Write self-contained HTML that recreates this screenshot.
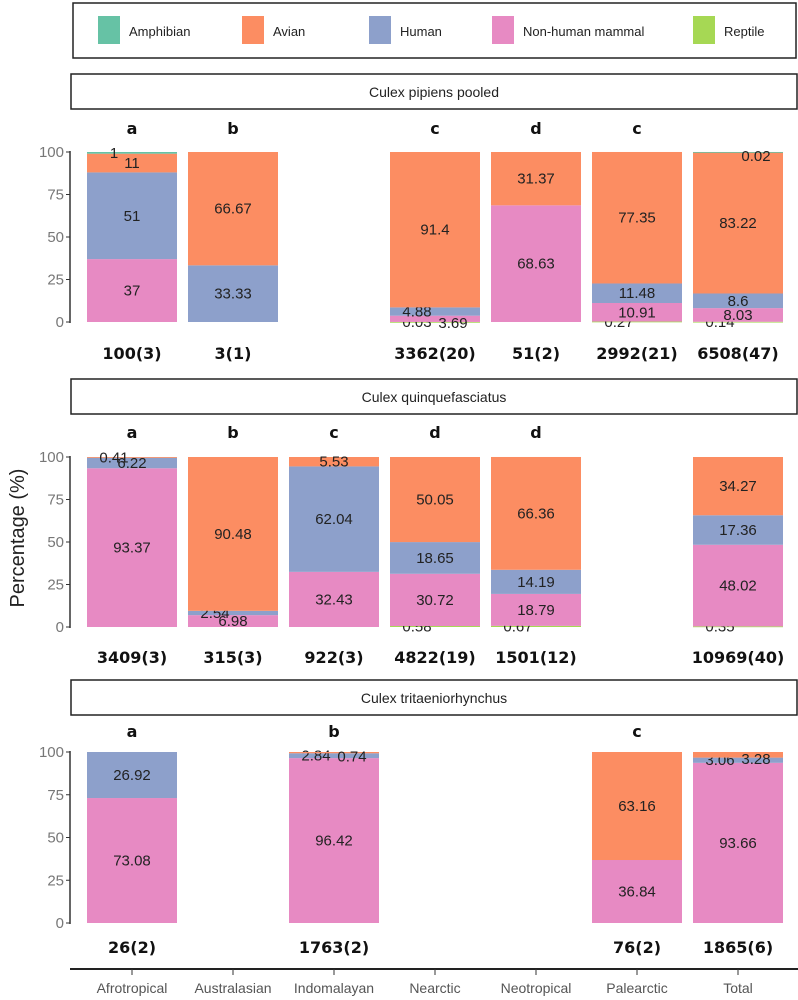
<!DOCTYPE html>
<html><head><meta charset="utf-8"><style>
body{margin:0;background:#fff;}
svg{display:block;font-family:"Liberation Sans",sans-serif;}
.n{font-family:"Liberation Sans Narrow","Liberation Sans",sans-serif;}
</style></head><body>
<svg id="chart" width="798" height="1000" viewBox="0 0 798 1000" xmlns="http://www.w3.org/2000/svg">
<g>
<rect x="73" y="3" width="723" height="55" fill="#fff" stroke="#222" stroke-width="1.5"/>
<g><rect x="98" y="16" width="22" height="28" fill="#66c2a5"/><text x="129" y="36" font-size="13" fill="#222">Amphibian</text></g>
<g><rect x="242" y="16" width="22" height="28" fill="#fc8d62"/><text x="273" y="36" font-size="13" fill="#222">Avian</text></g>
<g><rect x="369" y="16" width="22" height="28" fill="#8da0cb"/><text x="400" y="36" font-size="13" fill="#222">Human</text></g>
<g><rect x="492" y="16" width="22" height="28" fill="#e78ac3"/><text x="523" y="36" font-size="13" fill="#222">Non-human mammal</text></g>
<g><rect x="693" y="16" width="22" height="28" fill="#a6d854"/><text x="724" y="36" font-size="13" fill="#222">Reptile</text></g>
</g>
<text transform="translate(24,538) rotate(-90)" text-anchor="middle" font-size="20" fill="#222">Percentage (%)</text>
<line x1="70" y1="969" x2="798" y2="969" stroke="#222" stroke-width="2"/>
<g id="plots"></g>
</svg>
<script>
const regions = ["Afrotropical","Australasian","Indomalayan","Nearctic","Neotropical","Palearctic","Total"];
const hostCats = ["Reptile","Non-human mammal","Human","Avian","Amphibian"];
const hostColors = ["#a6d854","#e78ac3","#8da0cb","#fc8d62","#66c2a5"];
const panelTitles = ["Culex pipiens pooled","Culex quinquefasciatus","Culex tritaeniorhynchus"];
const yTicks = [0,25,50,75,100];
// values per region: [Reptile, NHM, Human, Avian, Amphibian]; null = no bar
const pipiensValues = [[0,37,51,11,1],[0,0,33.33,66.67,0],null,[0.03,3.69,4.88,91.4,0],[0,68.63,0,31.37,0],[0.27,10.91,11.48,77.35,0],[0.14,8.03,8.6,83.22,0.02]];
const quinqValues = [[0,93.37,6.22,0.41,0],[0,6.98,2.54,90.48,0],[0,32.43,62.04,5.53,0],[0.58,30.72,18.65,50.05,0],[0.67,18.79,14.19,66.36,0],null,[0.35,48.02,17.36,34.27,0]];
const tritaValues = [[0,73.08,26.92,0,0],null,[0,96.42,2.84,0.74,0],null,null,[0,36.84,0,63.16,0],[0,93.66,3.06,3.28,0]];
const pipiensLetters = ["a","b","","c","d","c",""];
const quinqLetters = ["a","b","c","d","d","",""];
const tritaLetters = ["a","","b","","","c",""];
const pipiensCounts = ["100(3)","3(1)","","3362(20)","51(2)","2992(21)","6508(47)"];
const quinqCounts = ["3409(3)","315(3)","922(3)","4822(19)","1501(12)","","10969(40)"];
const tritaCounts = ["26(2)","","1763(2)","","","76(2)","1865(6)"];

const allValues=[pipiensValues,quinqValues,tritaValues];
const allLetters=[pipiensLetters,quinqLetters,tritaLetters];
const allCounts=[pipiensCounts,quinqCounts,tritaCounts];
const layout=[{strip:74,top:152,bot:322,letter:134,count:359},{strip:379,top:457,bot:627,letter:438,count:663},{strip:680,top:752,bot:923,letter:737,count:953}];
const NS="http://www.w3.org/2000/svg";
const root=document.getElementById('plots');
function mk(tag,attrs,parent){const e=document.createElementNS(NS,tag);for(const k in attrs)e.setAttribute(k,attrs[k]);parent.appendChild(e);return e;}
const xCenter=i=>132+101*i;
const barW=90;
regions.forEach((r,i)=>{
  const t=mk('line',{x1:xCenter(i),x2:xCenter(i),y1:969,y2:975,stroke:'#333','stroke-width':1},root);
  
  
  const tx=mk('text',{x:xCenter(i),y:993,'text-anchor':'middle','font-size':14,fill:'#555',class:'n'},root);
  tx.textContent=r;
  
  
});
layout.forEach((L,p)=>{
  const g=mk('g',{},root);
  
  
  const y=v=>L.bot-(L.bot-L.top)*v/100;
  const s=mk('rect',{x:71,y:L.strip,width:726,height:35,fill:'#fff',stroke:'#222','stroke-width':1.5},g);
  
  
  const st=mk('text',{x:434,y:L.strip+23,'text-anchor':'middle','font-size':14,fill:'#222',class:'n'},g);
  st.textContent=panelTitles[p];
  
  
  const ax=mk('line',{x1:70,x2:70,y1:y(100)-1,y2:y(0)+1,stroke:'#333','stroke-width':1.5},g);
  
  
  yTicks.forEach(v=>{
    const tl=mk('line',{x1:66,x2:70,y1:y(v),y2:y(v),stroke:'#333'},g);
    
    
    const tt=mk('text',{x:64,y:y(v)+5,'text-anchor':'end','font-size':15,fill:'#777',class:'n'},g);
    tt.textContent=v;
    
    
  });
  allValues[p].forEach((vals,i)=>{
    const cx=xCenter(i);
    if(allLetters[p][i]){const lt=mk('text',{x:cx,y:L.letter,'text-anchor':'middle','font-size':16,'font-weight':'bold',fill:'#111','font-family':'DejaVu Sans, sans-serif'},g);lt.textContent=allLetters[p][i];
      
      }
    if(allCounts[p][i]){const ct=mk('text',{x:cx,y:L.count,'text-anchor':'middle','font-size':16,'font-weight':'bold',fill:'#111','font-family':'DejaVu Sans, sans-serif'},g);ct.textContent=allCounts[p][i];
      
      }
    if(!vals)return;
    let cum=0;let small=0;
    vals.forEach((v,k)=>{
      if(v<=0)return;
      const r=mk('rect',{x:cx-barW/2,y:y(cum+v),width:barW,height:Math.max(0.8,y(cum)-y(cum+v)),fill:hostColors[k]},g);
      
      
      let ty=(y(cum)+y(cum+v))/2+5, tx=cx;
      if(v<5){small++;tx=cx+(small%2?-18:18);ty=Math.min(Math.max(ty+(small%2?0:4),y(100)+4),y(0)+8);}
      const lb=mk('text',{x:tx,y:ty,'text-anchor':'middle','font-size':15,fill:'#222',class:'n'},g);
      lb.textContent=v;
      
      
      cum+=v;
    });
  });
});
</script>
</body></html>
